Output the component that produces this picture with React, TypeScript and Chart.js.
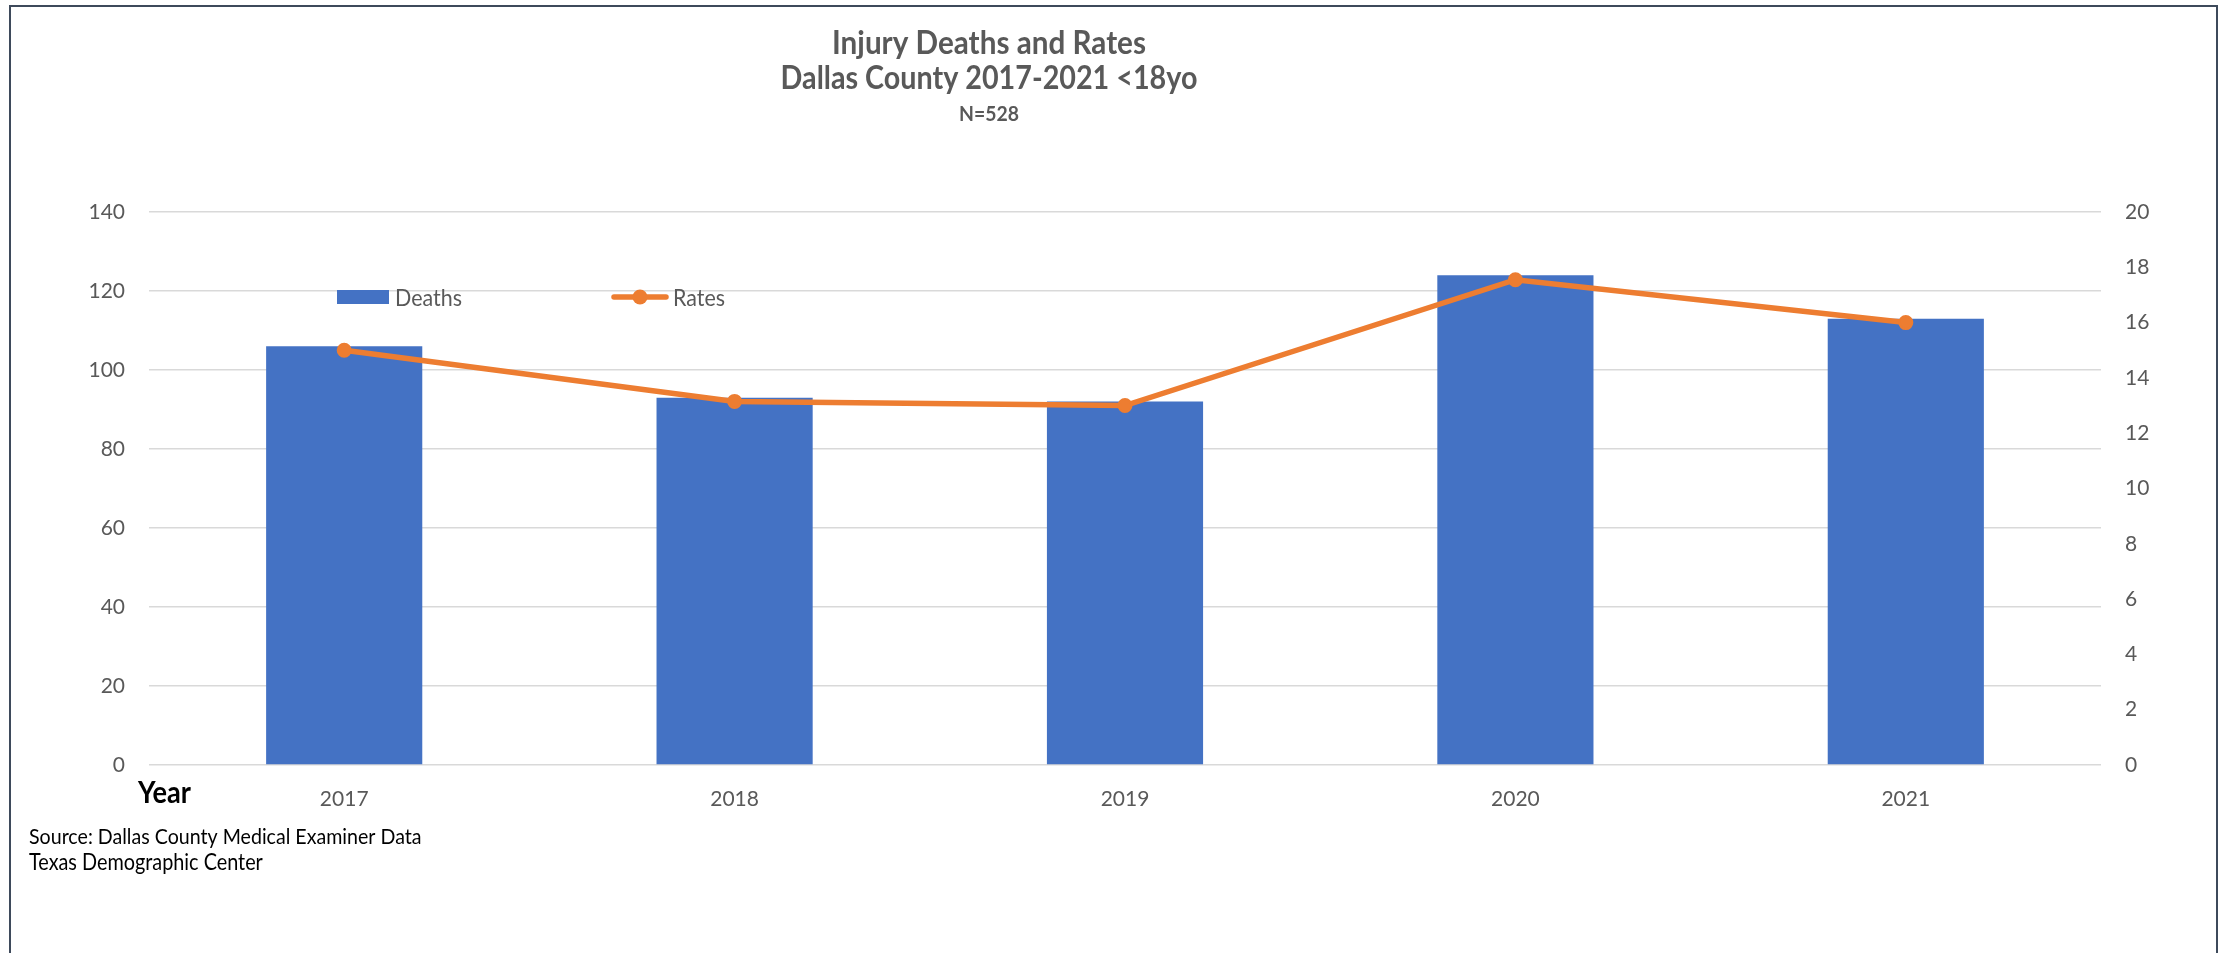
import React, { useEffect, useRef } from 'react';
import { Chart, registerables } from 'chart.js';

Chart.register(...registerables);

// ---- data ----
const years = ['2017', '2018', '2019', '2020', '2021'];
const deaths = [106, 93, 92, 124, 113];
const rates = [15.0, 13.15, 13.0, 17.55, 16.0];
const seriesNames = ['Deaths', 'Rates'];
const titleLines = ['Injury Deaths and Rates', 'Dallas County 2017-2021 <18yo'];
const subtitleText = 'N=528';
const xAxisTitle = 'Year';
const sourceLines = ['Source: Dallas County Medical Examiner Data', 'Texas Demographic Center'];

// ---- style ----
const FAMILY = 'Lato, "Open Sans", "Liberation Sans", sans-serif';
const BAR_COLOR = '#4472C4';
const LINE_COLOR = '#ED7D31';
const TEXT_GREY = '#595959';
const GRID = '#d9d9d9';

function fitFont(ctx: CanvasRenderingContext2D, text: string, weight: number, width: number) {
  ctx.font = `${weight} 100px ${FAMILY}`;
  const w = ctx.measureText(text).width;
  const size = (100 * width) / w;
  return `${weight} ${size.toFixed(2)}px ${FAMILY}`;
}

// draws text fitted to a width, stretched slightly taller (Calibri-like proportions)
function drawFitted(
  ctx: CanvasRenderingContext2D,
  text: string,
  weight: number,
  width: number,
  x: number,
  y: number,
  stretch = 1.12
) {
  ctx.save();
  ctx.font = fitFont(ctx, text, weight, width);
  ctx.translate(x, y);
  ctx.scale(1, stretch);
  ctx.fillText(text, 0, 0);
  ctx.restore();
}

const decorPlugin = {
  id: 'decor',
  beforeDraw(chart: any) {
    const ctx = chart.ctx as CanvasRenderingContext2D;
    ctx.save();
    ctx.fillStyle = '#ffffff';
    ctx.fillRect(0, 0, chart.width, chart.height);
    ctx.restore();
  },
  afterDraw(chart: any) {
    const ctx = chart.ctx as CanvasRenderingContext2D;
    ctx.save();
    // outer frame (left, top, right)
    ctx.strokeStyle = '#3E4A5B';
    ctx.lineWidth = 2;
    ctx.beginPath();
    ctx.moveTo(10, chart.height + 2);
    ctx.lineTo(10, 6);
    ctx.lineTo(2217, 6);
    ctx.lineTo(2217, chart.height + 2);
    ctx.stroke();

    // titles
    ctx.fillStyle = TEXT_GREY;
    ctx.textAlign = 'center';
    ctx.textBaseline = 'alphabetic';
    const cx = 989;
    drawFitted(ctx, titleLines[0], 700, 314, cx, 54);
    drawFitted(ctx, titleLines[1], 700, 417, cx, 89);
    drawFitted(ctx, subtitleText, 700, 60, cx, 121);

    // axis title "Year"
    ctx.textAlign = 'left';
    ctx.fillStyle = '#000000';
    drawFitted(ctx, xAxisTitle, 700, 53, 138, 803);

    // source notes
    ctx.fillStyle = '#000000';
    drawFitted(ctx, sourceLines[0], 400, 393, 29, 844);
    drawFitted(ctx, sourceLines[1], 400, 234, 29, 870);

    // legend
    const ly = 297;
    ctx.fillStyle = BAR_COLOR;
    ctx.fillRect(337, ly - 7, 52, 14);
    ctx.fillStyle = TEXT_GREY;
    ctx.textBaseline = 'middle';
    drawFitted(ctx, seriesNames[0], 400, 67, 395, ly + 1);

    ctx.strokeStyle = LINE_COLOR;
    ctx.lineWidth = 5.5;
    ctx.lineCap = 'round';
    ctx.beginPath();
    ctx.moveTo(614, ly);
    ctx.lineTo(666, ly);
    ctx.stroke();
    ctx.fillStyle = LINE_COLOR;
    ctx.beginPath();
    ctx.arc(640, ly, 7.5, 0, Math.PI * 2);
    ctx.fill();
    ctx.fillStyle = TEXT_GREY;
    drawFitted(ctx, seriesNames[1], 400, 52, 673, ly + 1);
    ctx.restore();
  },
};

export default function App() {
  const ref = useRef<HTMLCanvasElement>(null);

  useEffect(() => {
    document.body.style.margin = '0';
    if (!ref.current) return;
    const tickFont = { family: FAMILY, size: 21 };
    const chart = new Chart(ref.current, {
      type: 'bar',
      data: {
        labels: years,
        datasets: [
          {
            type: 'bar',
            label: seriesNames[0],
            data: deaths,
            backgroundColor: BAR_COLOR,
            borderWidth: 0,
            barPercentage: 0.4,
            categoryPercentage: 1.0,
            yAxisID: 'y',
            order: 2,
          },
          {
            type: 'line',
            label: seriesNames[1],
            data: rates,
            borderColor: LINE_COLOR,
            backgroundColor: LINE_COLOR,
            borderWidth: 5.5,
            pointRadius: 6.5,
            pointBorderWidth: 2,
            pointBackgroundColor: LINE_COLOR,
            pointBorderColor: LINE_COLOR,
            tension: 0,
            fill: false,
            yAxisID: 'y1',
            order: 1,
          } as any,
        ],
      },
      options: {
        responsive: false,
        maintainAspectRatio: false,
        animation: false,
        devicePixelRatio: 1,
        layout: { padding: { top: 212, left: 0, right: 0, bottom: 0 } },
        plugins: {
          legend: { display: false },
          title: { display: false },
          tooltip: { enabled: false },
        },
        scales: {
          x: {
            grid: { display: false },
            border: { display: false },
            ticks: { color: TEXT_GREY, font: tickFont, padding: 14 },
            afterFit: (s: any) => {
              s.height = 188;
            },
          },
          y: {
            position: 'left',
            min: 0,
            max: 140,
            ticks: { stepSize: 20, color: TEXT_GREY, font: tickFont, padding: 24 },
            grid: { color: GRID, lineWidth: 1.5, drawTicks: false },
            border: { display: false },
            afterFit: (s: any) => {
              s.width = 149;
            },
          },
          y1: {
            position: 'right',
            min: 0,
            max: 20,
            ticks: { stepSize: 2, color: TEXT_GREY, font: tickFont, padding: 24 },
            grid: { drawOnChartArea: false, drawTicks: false },
            border: { display: false },
            afterFit: (s: any) => {
              s.width = 128;
            },
          },
        },
      } as any,
      plugins: [decorPlugin],
    });
    return () => chart.destroy();
  }, []);

  return (
    <div style={{ width: 2229, height: 953 }}>
      <canvas ref={ref} width={2229} height={953} style={{ display: 'block' }} />
    </div>
  );
}
